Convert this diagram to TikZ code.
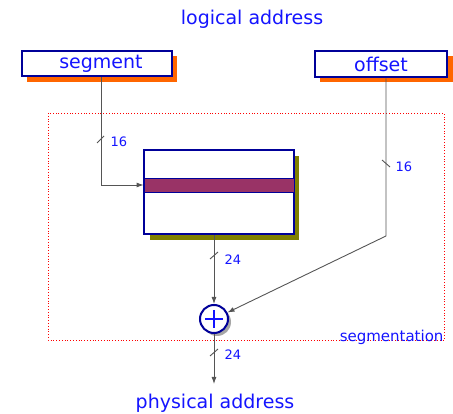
\documentclass[tikz,border=0pt]{standalone}
\usepackage{fontspec}
\setmainfont{DejaVu Sans}
\usetikzlibrary{calc,arrows.meta,positioning}

\definecolor{txtblue}{RGB}{20,20,255}
\definecolor{boxblue}{RGB}{0,0,153}
\definecolor{shadeorange}{RGB}{255,102,0}
\definecolor{shadeolive}{RGB}{128,128,0}
\definecolor{entrypurple}{RGB}{153,51,102}
\definecolor{wire}{RGB}{85,85,85}

\begin{document}
\begin{tikzpicture}[x=1pt,y=-1pt,
	regbox/.style={draw=boxblue,line width=2pt,fill=white,text=txtblue,font=\fontsize{19}{19}\selectfont,inner sep=0pt},
	buslabel/.style={text=txtblue,font=\fontsize{13}{13}\selectfont,anchor=west},
	wire/.style={draw=wire,line width=0.9pt,-{Latex[length=7pt,width=5pt]}}]
		\useasboundingbox (0,0) rectangle (453,414);
		% segmentation unit border
		\draw[red,dotted,line width=0.8pt] (48,113) rectangle (444,340);
		\node[text=txtblue,font=\fontsize{15}{15}\selectfont,anchor=east] (unit) at (447,337) {segmentation};
		
		% segment and offset registers
		\fill[shadeorange] (27,56) rectangle (177,82);
		\node[regbox,minimum width=150,minimum height=25] (segment) at (97,63.5) {\hspace*{8pt}segment};
		\fill[shadeorange] (320,56) rectangle (453,82);
		\node[regbox,minimum width=132,minimum height=26] (offset) at (381,64.5) {offset};
		\node[text=txtblue,font=\fontsize{19}{19}\selectfont] (logical) at (252,19) {logical address};
		
		% segment table
		\fill[shadeolive] (150,156) rectangle (299,240);
		\node[draw=boxblue,line width=2pt,fill=white,minimum width=150,minimum height=84,inner sep=0pt] (table) at (219,192) {};
		\node[draw=boxblue,line width=0.8pt,fill=entrypurple,minimum width=150,minimum height=14,inner sep=0pt] (entry) at (219,185) {};
		
		% adder
		\fill[gray!70] (217,322) circle (14);
		\node[circle,draw=boxblue,line width=2pt,fill=white,minimum size=28,inner sep=0pt] (sum) at (214,319) {};
		\draw[txtblue,line width=2.2pt] ($(sum)+(-9,0)$) -- ($(sum)+(9,0)$) ($(sum)+(0,-9)$) -- ($(sum)+(0,9)$);
		
		\coordinate (bend) at (386,236);
		\coordinate (out) at (214,384);
		\draw[wire] ([xshift=4]segment.south) |- (entry.west);
		\draw[wire] ([xshift=5]offset.south) -- (bend) -- (sum);
		\draw[wire] (sum |- table.south) -- (sum);
		\draw[wire] (sum) -- (out);
		\node[text=txtblue,font=\fontsize{19}{19}\selectfont] (physical) at (215,403) {physical address};
		
		% bus widths
		\draw[wire,-] (97,143) -- (104,136);
		\node[buslabel] at (107,142) {16};
		\draw[wire,-] (382,160) -- (390,167);
		\node[buslabel] at (392,167) {16};
		\draw[wire,-] (210,259) -- (218,252);
		\node[buslabel] at (221,260) {24};
		\draw[wire,-] (210,356) -- (218,349);
		\node[buslabel] at (221,355) {24};
		
	\end{tikzpicture}
\end{document}
